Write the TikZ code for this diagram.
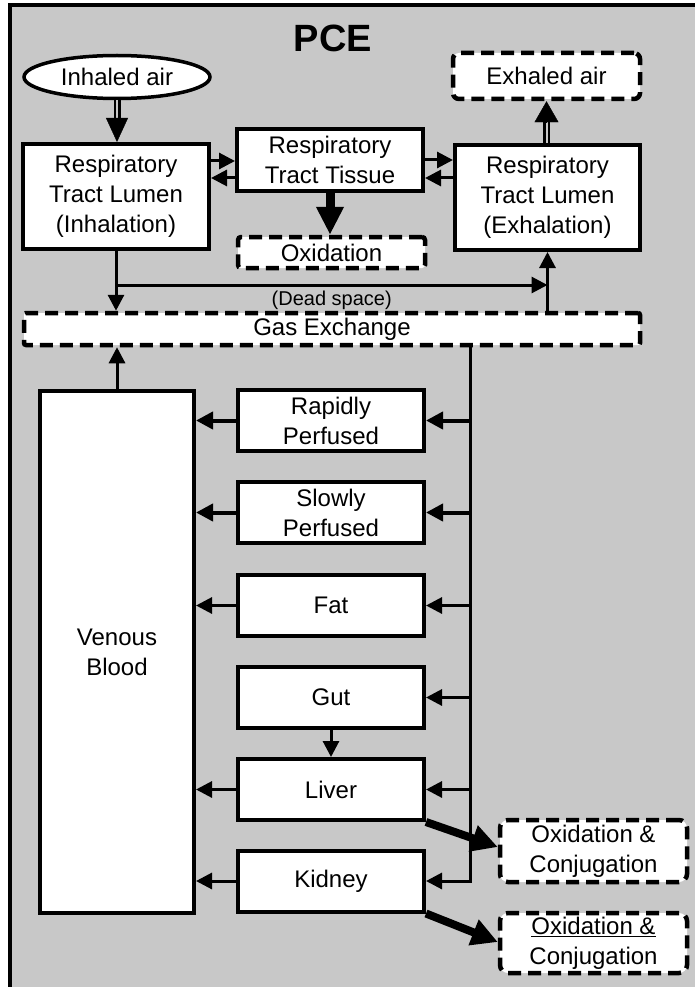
\documentclass[tikz,border=0pt]{standalone}
\usepackage{fontspec}
\setmainfont{Liberation Sans}
\usetikzlibrary{arrows.meta,shapes.geometric,calc}
\definecolor{bg}{RGB}{200,200,200}
\begin{document}
\begin{tikzpicture}[x=1pt,y=-1pt,
  txt/.style={font=\fontsize{24}{30}\selectfont, align=center, text=black},
  sbox/.style={txt, draw=black, fill=white, line width=4pt, inner sep=0pt},
  dbox/.style={txt, draw=black, fill=white, line width=4.5pt, dash pattern=on 13pt off 7pt, rounded corners=6pt, inner sep=0pt},
  arr/.style={line width=3pt, -{Triangle[length=16pt,width=16pt]}},
  arrb/.style={line width=4pt, -{Triangle[length=17pt,width=17pt]}},
  tarr/.style={line width=8pt, -{Triangle[length=26pt,width=26pt]}},
  dline/.style={draw=black, double=bg, double distance=2pt, line width=2.5pt},
]
\useasboundingbox (0,0) rectangle (695,987);
\begin{scope}
  \clip (0,0) rectangle (695,987);
  \draw[fill=bg, line width=3.5pt] (10,5) rectangle (720,1010);
\end{scope}

\node[font=\bfseries\fontsize{38}{42}\selectfont] (title) at (333,38) {PCE};

\node[txt, ellipse, draw=black, fill=white, line width=3.5pt, inner sep=0pt,
      minimum width=186pt, minimum height=43pt] (ia) at (117,77) {Inhaled air};
\node[sbox, minimum width=186pt, minimum height=105pt] (lin) at (116,196.5) {Respiratory\\Tract Lumen\\(Inhalation)};
\node[sbox, minimum width=186pt, minimum height=62pt] (tis) at (330,160) {Respiratory\\Tract Tissue};
\node[sbox, minimum width=185pt, minimum height=105pt] (lex) at (547.5,197.5) {Respiratory\\Tract Lumen\\(Exhalation)};
\node[dbox, minimum width=187pt, minimum height=46pt] (exa) at (546.5,76) {Exhaled air};
\node[dbox, minimum width=187pt, minimum height=31pt, rounded corners=3pt] (ox) at (331.5,252.5) {Oxidation};
\node[dbox, minimum width=616pt, minimum height=32pt, rounded corners=2pt] (gx) at (332,329) {Gas Exchange};

\node[sbox, minimum width=154pt, minimum height=522pt] (vb) at (117,652) {Venous\\Blood};
\node[sbox, minimum width=186pt, minimum height=61pt] (rp) at (331,420.5) {Rapidly\\Perfused};
\node[sbox, minimum width=186pt, minimum height=61pt] (sp) at (331,512.5) {Slowly\\Perfused};
\node[sbox, minimum width=186pt, minimum height=61pt] (fat) at (331,605.5) {Fat};
\node[sbox, minimum width=186pt, minimum height=61pt] (gut) at (331,697.5) {Gut};
\node[sbox, minimum width=186pt, minimum height=61pt] (liv) at (331,789.5) {Liver};
\node[sbox, minimum width=186pt, minimum height=61pt] (kid) at (331,881) {Kidney};

\node[dbox, minimum width=187pt, minimum height=62pt, rounded corners=8pt] (oc1) at (593.5,851) {Oxidation \&\\Conjugation};
\node[dbox, minimum width=187pt, minimum height=60pt, rounded corners=8pt] (oc2) at (593.5,943) {\underline{Oxidation \&}\\Conjugation};

\coordinate (bus) at (470,345);

% inhaled air -> lumen (double line, big head)
\draw[dline, shorten >=23pt] (ia.south) -- (ia.south |- lin.north);
\draw[-{Triangle[length=24pt,width=22pt]}] ($(ia.south |- lin.north)+(0,-24)$) -- (ia.south |- lin.north);
% lumen exhalation -> exhaled air
\draw[dline, shorten >=20pt] (lex.north -| exa.south) -- (exa.south);
\draw[-{Triangle[length=21pt,width=24pt]}] ($(exa.south)+(0,21)$) -- (exa.south);

% lumen <-> tissue
\draw[arr] ([yshift=-1pt]tis.west -| lin.east) -- ([yshift=-1pt]tis.west);
\draw[arr] ([yshift=-18pt]tis.west) -- ([yshift=-18pt]tis.west -| lin.east);
\draw[arr] (tis.east) -- (tis.east -| lex.west);
\draw[arr] ([yshift=-18pt]tis.east -| lex.west) -- ([yshift=-18pt]tis.east);

% tissue -> oxidation
\draw[line width=9pt, -{Triangle[length=28pt,width=26pt]}] (tis.south) -- (tis.south |- ox.north);

% dead space and gas exchange
\draw[arr] (lin.south) -- (lin.south |- gx.north);
\draw[arr] ($(lin.south)+(0,34)$) -- node[below=1pt, font=\fontsize{20}{22}\selectfont] (ds) {(Dead space)} ($(lex.south)+(0,33)$);
\draw[arr] (lex.south |- gx.north) -- (lex.south);
\draw[arr] (vb.north) -- (vb.north |- gx.south);

% bus to organs
\draw[arr] (gx.south -| bus) |- (kid.east);
\draw[arrb] (rp.east -| bus) -- (rp.east);
\draw[arrb] (sp.east -| bus) -- (sp.east);
\draw[arr] (fat.east -| bus) -- (fat.east);
\draw[arr] (gut.east -| bus) -- (gut.east);
\draw[arr] (liv.east -| bus) -- (liv.east);

% organs to venous blood
\draw[arrb] (rp.west) -- (rp.west -| vb.east);
\draw[arrb] (sp.west) -- (sp.west -| vb.east);
\draw[arr] (fat.west) -- (fat.west -| vb.east);
\draw[arr] (liv.west) -- (liv.west -| vb.east);
\draw[arr] (kid.west) -- (kid.west -| vb.east);

% gut -> liver
\draw[arr] (gut.south) -- (liv.north);

% metabolism
\draw[tarr] (liv.south east) -- ($(oc1.west)+(0,-4)$);
\draw[tarr] (kid.south east) -- ($(oc2.west)+(0,-1)$);
\end{tikzpicture}
\end{document}
